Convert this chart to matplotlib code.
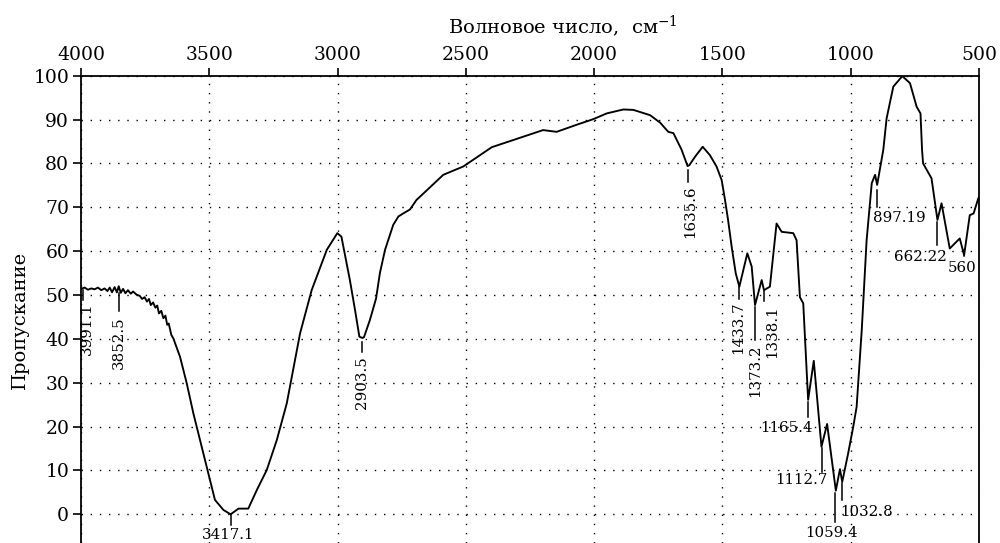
import matplotlib
matplotlib.use('Agg')
import matplotlib.pyplot as plt

plt.rcParams['font.family'] = ['DejaVu Serif']
plt.rcParams['mathtext.fontset'] = 'dejavuserif'

# spectrum: wavenumber (cm-1) and transmittance
wavenumber = [
    4000, 3999, 3986, 3973, 3960, 3947, 3934, 3921, 3908, 3897, 3888, 3879, 3869,
    3860, 3853, 3845, 3836, 3827, 3817, 3806, 3797, 3784, 3771, 3762, 3752, 3743,
    3735, 3728, 3719, 3710, 3703, 3696, 3687, 3679, 3671, 3664, 3658, 3648, 3640,
    3614, 3588, 3562, 3536, 3510, 3478, 3445, 3417, 3386, 3348, 3315, 3276, 3237,
    3198, 3146, 3101, 3042, 3001, 2985, 2952, 2932, 2915, 2903, 2897, 2874, 2850,
    2835, 2815, 2783, 2763, 2744, 2718, 2692, 2679, 2588, 2510, 2399, 2199, 2146,
    2069, 2003, 1951, 1886, 1847, 1782, 1743, 1711, 1691, 1659, 1636, 1629, 1607,
    1577, 1549, 1523, 1503, 1490, 1478, 1464, 1448, 1434, 1403, 1386, 1373, 1347,
    1338, 1315, 1289, 1269, 1224, 1211, 1198, 1185, 1166, 1144, 1114, 1092, 1058,
    1042, 1033, 1010, 990, 977, 957, 938, 918, 905, 897, 873, 860, 834, 799, 769,
    743, 728, 722, 718, 685, 662, 646, 614, 575, 558, 536, 521, 503, 500,
]
transmittance = [
    51.3, 51.4, 51.7, 51.2, 51.5, 51.3, 51.7, 51.1, 51.5, 50.9, 51.7, 50.6, 51.8,
    50.6, 52.0, 50.5, 51.4, 50.4, 51.1, 50.3, 50.8, 50.1, 49.8, 49.1, 49.5, 48.5,
    49.1, 47.7, 48.3, 47.1, 47.6, 45.8, 46.4, 44.7, 45.3, 43.2, 43.5, 40.9, 40.1,
    35.9, 29.9, 23.0, 16.9, 10.9, 3.3, 1.0, 0.0, 1.3, 1.3, 5.5, 10.1, 16.9,
    25.3, 41.3, 51.1, 60.3, 64.1, 63.3, 53.4, 46.6, 40.5, 40.2, 40.4, 44.3, 49.2,
    55.0, 60.3, 66.0, 67.9, 68.6, 69.5, 71.7, 72.4, 77.4, 79.3, 83.7, 87.6, 87.2,
    88.8, 90.1, 91.4, 92.3, 92.2, 91.0, 89.3, 87.2, 86.9, 83.1, 79.4, 79.6, 81.5,
    83.8, 81.9, 79.3, 76.2, 71.7, 67.1, 61.0, 54.9, 51.9, 59.5, 56.5, 47.7, 53.4,
    51.1, 51.9, 66.3, 64.4, 64.1, 62.5, 49.5, 48.1, 26.1, 35.0, 15.4, 20.6, 5.4,
    10.3, 7.4, 13.9, 20.0, 24.5, 42.0, 62.5, 75.5, 77.4, 75.1, 83.1, 90.3, 97.5,
    99.9, 98.3, 92.9, 91.4, 83.1, 80.0, 76.6, 67.1, 70.9, 60.6, 62.9, 59.1, 68.2,
    68.6, 72.0, 72.3,
]

# peak labels
vertical_peaks = ['3991.1', '3852.5', '2903.5', '1635.6', '1433.7', '1373.2', '1338.1']
flat_peaks = ['3417.1', '1165.4', '1112.7', '1059.4', '1032.8', '897.19', '662.22', '560']

# placement: (tick top, tick bottom, text x, text top)
vertical_place = [
    (51.1, 48.8, 3977, 48.4),
    (50.5, 46.4, 3852, 45.1),
    (39.3, 36.9, 2903.5, 36.0),
    (78.5, 75.8, 1627, 74.9),
    (51.8, 49.1, 1439, 48.6),
    (47.3, 39.7, 1373.2, 38.8),
    (51.0, 48.7, 1307, 47.7),
]
# (tick x, tick top, tick bottom, text x, text y, alignment)
flat_place = [
    (3417.1, 0.07, -2.4, 3427, -4.7, 'center'),
    (1165.4, 25.6, 22.2, 1147, 19.7, 'right'),
    (1112.7, 15.1, 9.7, 1092, 7.8, 'right'),
    (1059.4, 4.9, -1.7, 1073, -4.3, 'center'),
    (1032.8, 7.1, 3.3, 1042, 0.5, 'left'),
    (897.19, 74.0, 70.1, 913, 67.6, 'left'),
    (662.22, 66.7, 61.4, 625, 58.7, 'right'),
    (560, 60.3, 58.9, 564, 56.2, 'center'),
]

fig = plt.figure(figsize=(10, 5.43), dpi=100)
ax = fig.add_axes([0.081, 0.0, 0.898, 0.8606])

ax.plot(wavenumber, transmittance, color='black', lw=1.35)

for label, (y1, y2, tx, ty) in zip(vertical_peaks, vertical_place):
    x = float(label)
    ax.plot([x, x], [y1, y2], color='black', lw=1.1)
    ax.text(tx, ty, label, rotation=90, ha='center', va='top', fontsize=10.8)

for label, (x, y1, y2, tx, ty, ha) in zip(flat_peaks, flat_place):
    ax.plot([x, x], [y1, y2], color='black', lw=1.1)
    ax.text(tx, ty, label, ha=ha, va='center', fontsize=10.8)

ax.set_xlim(4000, 500)
ax.set_ylim(-6.54, 100)
ax.set_xticks(range(4000, 499, -500))
ax.set_yticks(range(0, 101, 10))
ax.xaxis.tick_top()
ax.spines['bottom'].set_visible(False)
for s in ['top', 'left', 'right']:
    ax.spines[s].set_linewidth(1.3)
ax.tick_params(direction='out', length=5.5, width=1.2, labelsize=13.5, pad=3)
ax.tick_params(axis='x', bottom=False)
ax.grid(True, color='black', lw=1.0, linestyle=(0, (1, 5.6)))

fig.text(0.563, 1 - 33 / 543, 'Волновое число,  см$^{-1}$', ha='center', va='baseline', fontsize=14)
fig.text(0.020, 1 - 320 / 543, 'Пропускание', rotation=90, ha='center', va='center', fontsize=14)

fig.savefig('out.png', dpi=100)
